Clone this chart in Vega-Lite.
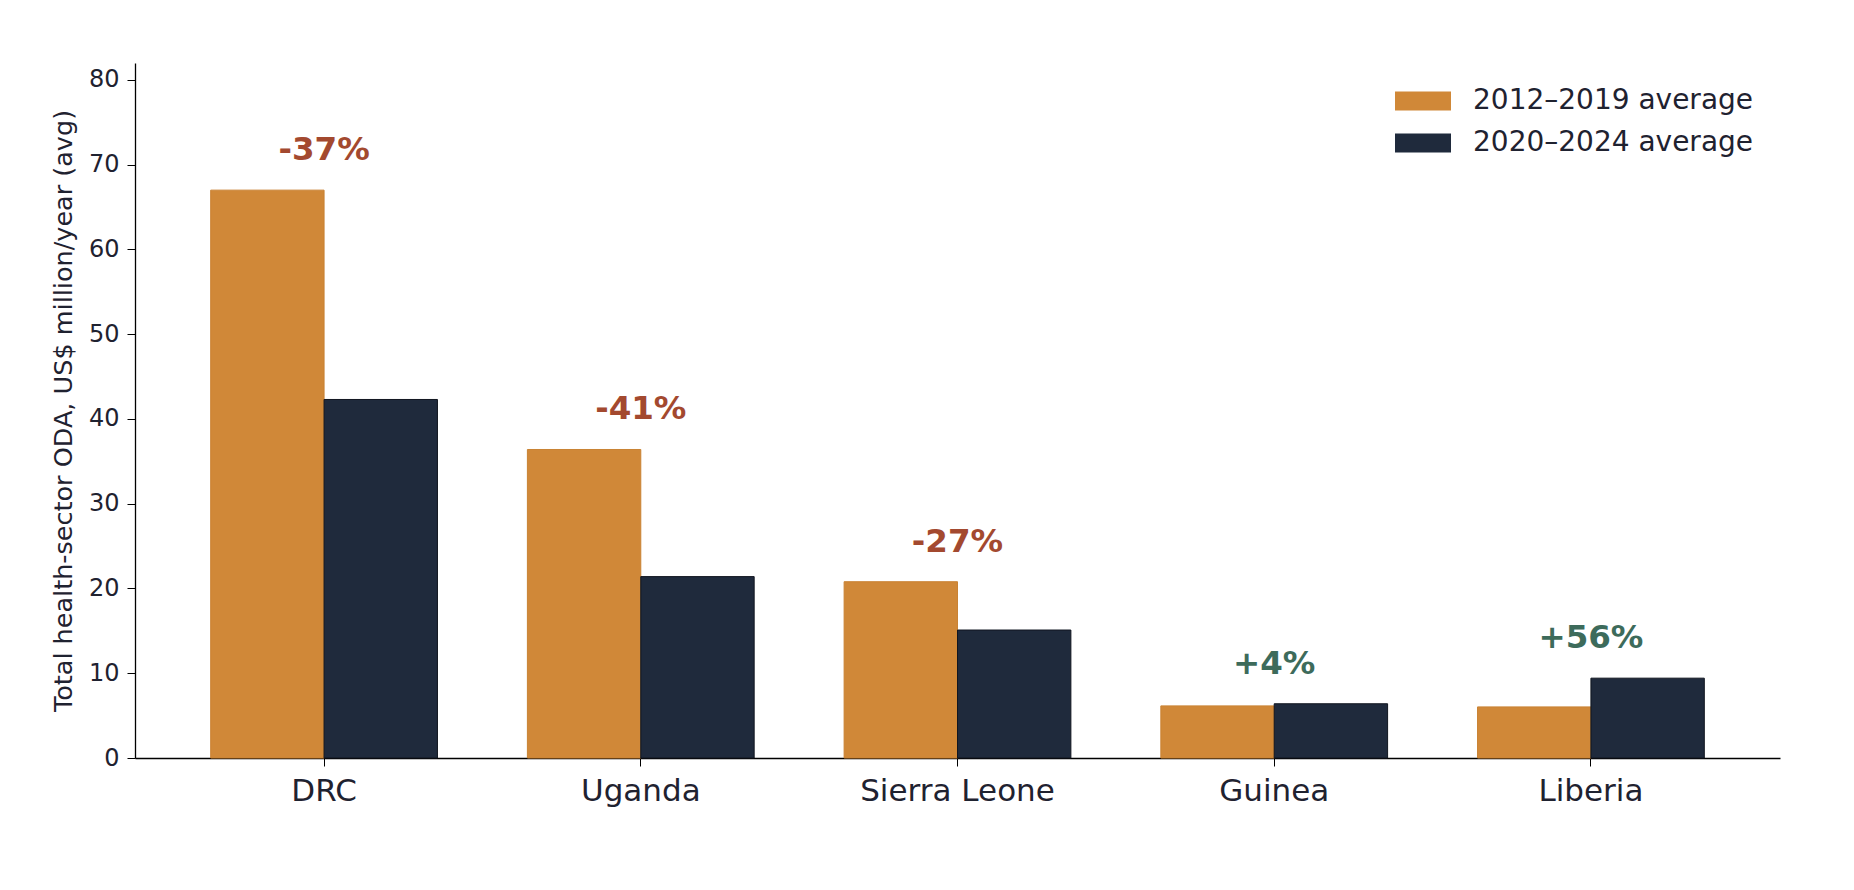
{
  "$schema": "https://vega.github.io/schema/vega-lite/v6.json",
  "width": 1645,
  "height": 695,
  "autosize": {"type": "none"},
  "padding": {"left": 135, "top": 63, "right": 74, "bottom": 132},
  "background": "white",
  "config": {
    "font": "DejaVu Sans",
    "view": {"stroke": null},
    "axis": {"grid": false, "domainColor": "#000000", "tickColor": "#000000", "labelColor": "#1f2230", "titleColor": "#1f2230", "labelLimit": 0}
  },
  "data": {
    "values": [
      {"country": "DRC", "period": "2012–2019 average", "value": 67.0, "change": "-37%"},
      {"country": "DRC", "period": "2020–2024 average", "value": 42.3, "change": "-37%"},
      {"country": "Uganda", "period": "2012–2019 average", "value": 36.4, "change": "-41%"},
      {"country": "Uganda", "period": "2020–2024 average", "value": 21.4, "change": "-41%"},
      {"country": "Sierra Leone", "period": "2012–2019 average", "value": 20.8, "change": "-27%"},
      {"country": "Sierra Leone", "period": "2020–2024 average", "value": 15.1, "change": "-27%"},
      {"country": "Guinea", "period": "2012–2019 average", "value": 6.15, "change": "+4%"},
      {"country": "Guinea", "period": "2020–2024 average", "value": 6.4, "change": "+4%"},
      {"country": "Liberia", "period": "2012–2019 average", "value": 6.03, "change": "+56%"},
      {"country": "Liberia", "period": "2020–2024 average", "value": 9.42, "change": "+56%"}
    ]
  },
  "encoding": {
    "x": {
      "field": "country",
      "type": "nominal",
      "sort": null,
      "title": null,
      "scale": {"paddingInner": 0.284, "paddingOuter": 0.239},
      "axis": {"labelAngle": 0, "labelFontSize": 31, "tickSize": 8, "labelPadding": 10, "domainWidth": 1.3}
    }
  },
  "layer": [
    {
      "mark": {"type": "bar", "strokeWidth": 1},
      "encoding": {
        "xOffset": {"field": "period", "type": "nominal", "scale": {"paddingInner": 0, "paddingOuter": 0}},
        "y": {
          "field": "value",
          "type": "quantitative",
          "title": "Total health-sector ODA, US$ million/year (avg)",
          "scale": {"domain": [0, 82], "nice": false},
          "axis": {"values": [0, 10, 20, 30, 40, 50, 60, 70, 80], "labelFontSize": 24, "tickSize": 8, "labelPadding": 8, "titleFontSize": 25.5, "titleFontWeight": "normal", "titlePadding": 12, "domainWidth": 1.3}
        },
        "stroke": {
          "field": "period",
          "type": "nominal",
          "scale": {"domain": ["2012–2019 average", "2020–2024 average"], "range": ["#c98233", "#10151f"]},
          "legend": null
        },
        "color": {
          "field": "period",
          "type": "nominal",
          "scale": {"domain": ["2012–2019 average", "2020–2024 average"], "range": ["#d08838", "#1f2a3c"]},
          "legend": {
            "title": null,
            "orient": "none",
            "legendX": 1260,
            "legendY": 10,
            "symbolType": "M-1,-0.34H1V0.34H-1Z",
            "symbolSize": 3136,
            "symbolOpacity": 1,
            "symbolStrokeWidth": 0,
            "labelFontSize": 28,
            "labelColor": "#1f2230",
            "labelOffset": 22,
            "labelLimit": 0,
            "rowPadding": -16
          }
        }
      }
    },
    {
      "transform": [
        {"aggregate": [{"op": "max", "field": "value", "as": "top"}], "groupby": ["country", "change"]}
      ],
      "mark": {"type": "text", "fontSize": 32.5, "fontWeight": "bold", "baseline": "alphabetic", "dy": -30},
      "encoding": {
        "y": {"field": "top", "type": "quantitative"},
        "text": {"field": "change"},
        "color": {
          "condition": {"test": "slice(datum.change, 0, 1) === '-'", "value": "#a3492f"},
          "value": "#3d6b5b"
        }
      }
    }
  ]
}
